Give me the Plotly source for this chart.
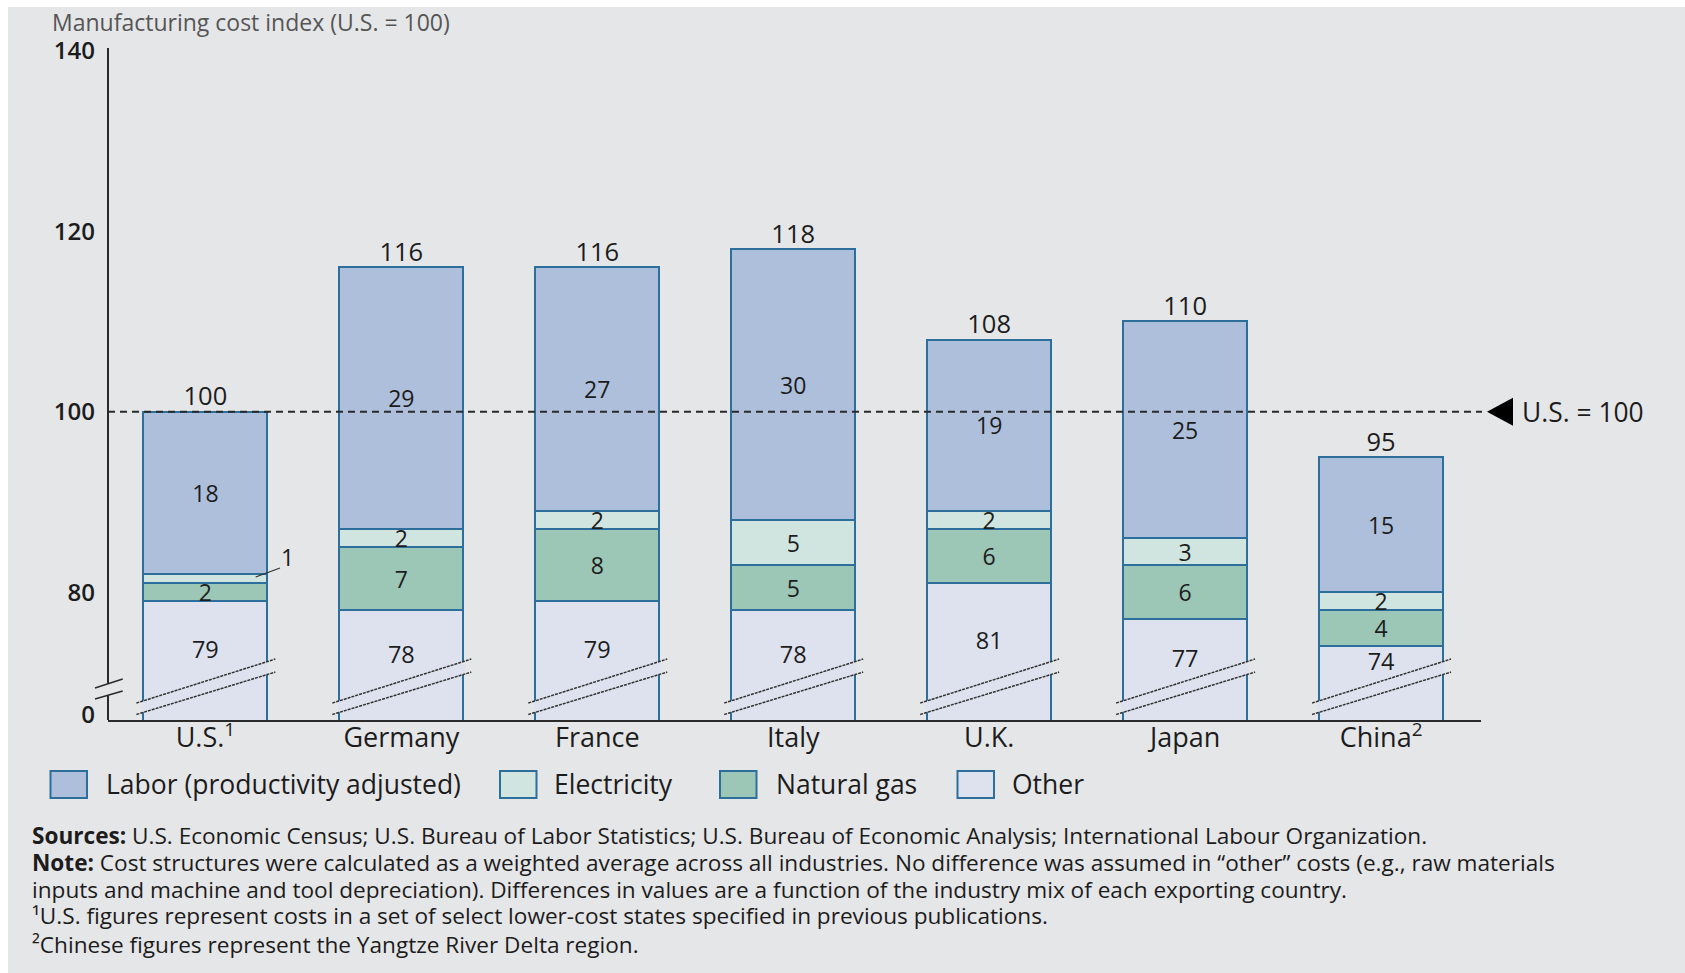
import plotly.graph_objects as go

# ---------------- data ----------------
categories = ["U.S.<sup>1</sup>", "Germany", "France", "Italy", "U.K.", "Japan", "China<sup>2</sup>"]
other = [79, 78, 79, 78, 81, 77, 74]
natural_gas = [2, 7, 8, 5, 6, 6, 4]
electricity = [1, 2, 2, 5, 2, 3, 2]
labor = [18, 29, 27, 30, 19, 24, 15]          # drawn heights (Japan bar tops out at 110)
labor_labels = ["18", "29", "27", "30", "19", "25", "15"]
electricity_labels = ["", "2", "2", "5", "2", "3", "2"]   # U.S. value shown outside the bar
other_labels = ["79", "78", "79", "78", "81", "77", "74"]
gas_labels = ["2", "7", "8", "5", "6", "6", "4"]
totals = [100, 116, 116, 118, 108, 110, 95]
y_tick_vals = [140, 120, 100, 80]
y_tick_text = ["140", "120", "100", "80"]
us_ref = 100
series_names = ["Labor (productivity adjusted)", "Electricity", "Natural gas", "Other"]

# ---------------- style ----------------
BG = "#e5e6e8"
C_LABOR = "#adbfdb"
C_ELEC = "#d0e5df"
C_GAS = "#9cc6b6"
C_OTHER = "#dde2ee"
OUTLINE = "#2c6e9c"
TXT = "#1c1c1c"
FONT = "Open Sans"

W, H = 1685, 973
ML, MR, MT, MB = 108, 204, 48, 253
PW = W - ML - MR
PH = H - MT - MB
Y_MIN, Y_MAX = 65.85, 140.3
X_MIN, X_MAX = -0.497, 6.51
BAR_W = 0.633


def px(sx):
    return (sx - ML) / PW


def py(sy):
    return (H - MB - sy) / PH


x = list(range(len(categories)))

fig = go.Figure()

common = dict(x=x, width=BAR_W, marker_line_color=OUTLINE, marker_line_width=2,
              hoverinfo="skip", showlegend=False, textposition="inside",
              insidetextanchor="middle", constraintext="none", textangle=0,
              textfont=dict(family=FONT, size=23, color=TXT))

fig.add_trace(go.Bar(y=other, marker_color=C_OTHER, name=series_names[3], text=None, **common))
fig.add_trace(go.Bar(y=natural_gas, marker_color=C_GAS, name=series_names[2], text=gas_labels, **common))
fig.add_trace(go.Bar(y=electricity, marker_color=C_ELEC, name=series_names[1], text=electricity_labels, **common))
fig.add_trace(go.Bar(y=labor, marker_color=C_LABOR, name=series_names[0], text=labor_labels, **common))

# labels of the (broken) "Other" segment, placed in its visible part
other_label_y = []
for v in other:
    mid = (v + Y_MIN) / 2 + 0.9
    other_label_y.append(mid if v - mid >= 4 else v - 2.0)
fig.add_trace(go.Scatter(x=x, y=other_label_y, mode="text", text=other_labels,
                         textfont=dict(family=FONT, size=23.5, color=TXT),
                         hoverinfo="skip", showlegend=False, cliponaxis=False))

# totals above bars
tops = [o + g + e + l for o, g, e, l in zip(other, natural_gas, electricity, labor)]
fig.add_trace(go.Scatter(x=x, y=tops, mode="text", text=[str(t) for t in totals],
                         textposition="top center",
                         textfont=dict(family=FONT, size=25.5, color=TXT),
                         hoverinfo="skip", showlegend=False, cliponaxis=False))

shapes = []
annotations = []

# white border strips of the original picture
shapes.append(dict(type="rect", xref="paper", yref="paper", x0=px(0), x1=px(W), y0=py(7), y1=py(0),
                   fillcolor="white", line=dict(width=0), layer="below"))
shapes.append(dict(type="rect", xref="paper", yref="paper", x0=px(0), x1=px(8), y0=py(H), y1=py(0),
                   fillcolor="white", line=dict(width=0), layer="below"))

# y axis line with a break
for a, b in [(48, 683), (695, 720)]:
    shapes.append(dict(type="line", xref="paper", yref="paper", x0=0, x1=0,
                       y0=py(a), y1=py(b), line=dict(color="#2a2a2a", width=2), layer="above"))
for (sx0, sy0, sx1, sy1) in [(95, 688, 122.7, 679), (95, 699, 122.7, 691)]:
    shapes.append(dict(type="line", xref="paper", yref="paper", x0=px(sx0), y0=py(sy0),
                       x1=px(sx1), y1=py(sy1), line=dict(color="#2a2a2a", width=1.5), layer="above"))

# break marks across every bar (in data coordinates)
up_l, up_r = 67.73, 72.6
lo_l, lo_r = 66.46, 71.16
dxl, dxr = -0.352, 0.357


def lerp(a, b, t):
    return a + (b - a) * t


for xi in x:
    hx = BAR_W / 2 + 0.008
    t0 = (-hx - dxl) / (dxr - dxl)
    t1 = (hx - dxl) / (dxr - dxl)
    path = (f"M {xi - hx},{lerp(lo_l, lo_r, t0)} L {xi - hx},{lerp(up_l, up_r, t0)} "
            f"L {xi + hx},{lerp(up_l, up_r, t1)} L {xi + hx},{lerp(lo_l, lo_r, t1)} Z")
    shapes.append(dict(type="path", xref="x", yref="y", path=path, fillcolor=C_OTHER,
                       line=dict(width=0), layer="above"))
    for (yl, yr) in [(up_l, up_r), (lo_l, lo_r)]:
        shapes.append(dict(type="line", xref="x", yref="y", x0=xi + dxl, y0=yl, x1=xi + dxr, y1=yr,
                           line=dict(color="#333333", width=1.5, dash="3px,1px"), layer="above"))

# U.S. = 100 reference line + marker
shapes.append(dict(type="line", xref="paper", yref="y", x0=0, x1=px(1482), y0=us_ref, y1=us_ref,
                   line=dict(color="#2a2a2a", width=1.8, dash="7px,5px"), layer="above"))
ty = 411.7
shapes.append(dict(type="path", xref="paper", yref="paper",
                   path=f"M {px(1487)},{py(ty)} L {px(1513)},{py(ty - 14)} L {px(1513)},{py(ty + 14)} Z",
                   fillcolor="#000000", line=dict(width=0)))
annotations.append(dict(text="U.S. = 100", xref="paper", yref="paper", x=px(1520), y=py(ty),
                        xanchor="left", yanchor="middle", showarrow=False,
                        font=dict(family=FONT, size=26.4, color=TXT)))

# U.S. electricity label outside bar with leader line
shapes.append(dict(type="line", xref="paper", yref="paper", x0=px(255.7), y0=py(577), x1=px(280), y1=py(568),
                   line=dict(color="#333333", width=1.3)))
annotations.append(dict(text=str(electricity[0]), xref="paper", yref="paper", x=px(287), y=py(557),
                        xanchor="center", yanchor="middle", showarrow=False,
                        font=dict(family=FONT, size=23, color=TXT)))

# title
annotations.append(dict(text="Manufacturing cost index (U.S. = 100)", xref="paper", yref="paper",
                        x=px(50), y=py(22), xanchor="left", yanchor="middle", showarrow=False,
                        font=dict(family=FONT, size=23, color="#555555")))

# custom legend
legend_items = [(series_names[0], C_LABOR, 50.5, 104), (series_names[1], C_ELEC, 500, 552),
                (series_names[2], C_GAS, 720, 774), (series_names[3], C_OTHER, 957.5, 1010)]
ly = 784.5
for name, col, bx, tx in legend_items:
    shapes.append(dict(type="rect", xref="paper", yref="paper", x0=px(bx), x1=px(bx + 36.5),
                       y0=py(ly - 13.5), y1=py(ly + 13.5), fillcolor=col,
                       line=dict(color=OUTLINE, width=2)))
    annotations.append(dict(text=name, xref="paper", yref="paper", x=px(tx), y=py(ly - 1),
                            xanchor="left", yanchor="middle", showarrow=False,
                            font=dict(family=FONT, size=26.5, color=TXT)))

# footnotes
notes = [
    "<b>Sources:</b> U.S. Economic Census; U.S. Bureau of Labor Statistics; U.S. Bureau of Economic Analysis; International Labour Organization.",
    "<b>Note:</b> Cost structures were calculated as a weighted average across all industries. No difference was assumed in “other” costs (e.g., raw materials",
    "inputs and machine and tool depreciation). Differences in values are a function of the industry mix of each exporting country.",
    "¹U.S. figures represent costs in a set of select lower-cost states specified in previous publications.",
    "²Chinese figures represent the Yangtze River Delta region.",
]
note_y = [835, 862, 889, 915.6, 944.6]
for t, yy in zip(notes, note_y):
    annotations.append(dict(text=t, xref="paper", yref="paper", x=px(30), y=py(yy),
                            xanchor="left", yanchor="middle", showarrow=False,
                            font=dict(family=FONT, size=22.6, color=TXT)))

fig.update_layout(
    width=W, height=H, autosize=False,
    margin=dict(l=ML, r=MR, t=MT, b=MB, pad=0),
    paper_bgcolor=BG, plot_bgcolor=BG,
    barmode="stack", bargap=0.37,
    showlegend=False,
    shapes=shapes, annotations=annotations,
    font=dict(family=FONT, color=TXT),
    xaxis=dict(range=[X_MIN, X_MAX], tickmode="array", tickvals=x, ticktext=categories,
               showgrid=False, zeroline=False, showline=True, linecolor="#2a2a2a", linewidth=2,
               ticks="", tickfont=dict(family=FONT, size=27, color=TXT), ticklabelstandoff=-7,
               fixedrange=True),
    yaxis=dict(range=[Y_MIN, Y_MAX], tickmode="array",
               tickvals=y_tick_vals + [66.45], ticktext=y_tick_text + ["0"],
               showgrid=False, zeroline=False, showline=False, ticks="",
               tickfont=dict(family=FONT, size=24, color=TXT, weight=600),
               ticklabelstandoff=12, fixedrange=True),
)

fig.write_html("out.html", config={"displayModeBar": False},
               post_script="document.body.style.margin='0';document.body.style.overflow='hidden';")
